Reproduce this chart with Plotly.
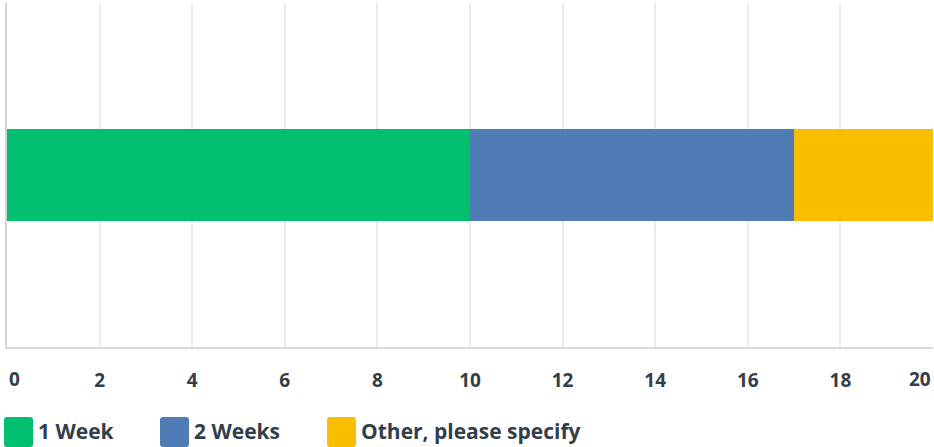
import plotly.graph_objects as go

categories = ["Q"]
series_names = ["1 Week", "2 Weeks", "Other, please specify"]
series_values = [[10], [7], [3]]
series_colors = ["#00BF6F", "#507CB6", "#F9BE00"]
tick_vals = [0, 2, 4, 6, 8, 10, 12, 14, 16, 18, 20]
tick_labels = ["0", "2", "4", "6", "8", "10", "12", "14", "16", "18", "20"]

W, H = 934, 447
L, R, T, B = 7, 1, 3, 100
pw = W - L - R
ph = H - T - B
TXT = "#333E48"
FAM = "Open Sans"
FONT = dict(family=FAM, size=19, color=TXT, weight=700)

fig = go.Figure()
for name, vals, col in zip(series_names, series_values, series_colors):
    fig.add_trace(go.Bar(y=categories, x=vals, name=name, orientation="h",
                         marker=dict(color=col, line=dict(width=0)),
                         width=0.27, showlegend=False))

# axis shows middle labels; end labels are clamped inside the plot like the reference
axis_text = [""] + tick_labels[1:-1] + [""]
annotations = [
    dict(x=tick_vals[0], y=0, xref="x", yref="paper", text=tick_labels[0],
         xanchor="left", yanchor="top", yshift=-17, showarrow=False, font=FONT),
    dict(x=tick_vals[-1], y=0, xref="x", yref="paper", text=tick_labels[-1],
         xanchor="right", yanchor="top", yshift=-17, showarrow=False, font=FONT),
]

def px_x(p):
    return (p - L) / pw

def px_y(p):
    return (H - B - p) / ph

def rounded_rect(x0, y0, x1, y1, r):
    def P(x, y):
        return f"{px_x(x):.5f},{px_y(y):.5f}"
    return (f"M{P(x0 + r, y0)} L{P(x1 - r, y0)} Q{P(x1, y0)} {P(x1, y0 + r)} "
            f"L{P(x1, y1 - r)} Q{P(x1, y1)} {P(x1 - r, y1)} "
            f"L{P(x0 + r, y1)} Q{P(x0, y1)} {P(x0, y1 - r)} "
            f"L{P(x0, y0 + r)} Q{P(x0, y0)} {P(x0 + r, y0)} Z")

legend_sq_x = [4, 160, 327]
shapes = []
for sx, name, col in zip(legend_sq_x, series_names, series_colors):
    shapes.append(dict(type="path", xref="paper", yref="paper",
                       path=rounded_rect(sx, 417, sx + 29, 447, 3),
                       fillcolor=col, line=dict(width=0), layer="above"))
    annotations.append(dict(x=px_x(sx + 32), y=px_y(431), xref="paper", yref="paper",
                            text=name, xanchor="left", yanchor="middle", showarrow=False,
                            font=dict(family=FAM, size=21, color=TXT, weight=700)))

fig.update_layout(
    width=W, height=H,
    margin=dict(l=L, r=R, t=T, b=B, autoexpand=False),
    paper_bgcolor="white", plot_bgcolor="white",
    barmode="stack", bargap=0,
    annotations=annotations, shapes=shapes,
    xaxis=dict(range=[0, 20], tickmode="array", tickvals=tick_vals, ticktext=axis_text,
               showgrid=True, gridcolor="#EBEBEB", gridwidth=2,
               showline=True, linecolor="#D9D9D9", linewidth=2,
               zeroline=False, ticks="", ticklabelstandoff=15,
               tickfont=FONT, fixedrange=True, automargin=False),
    yaxis=dict(range=[-0.5, 0.5], showticklabels=False, showgrid=False,
               showline=True, linecolor="#D5D5D5", linewidth=2,
               zeroline=False, ticks="", fixedrange=True, automargin=False),
)
fig.write_html("out.html", config={"displayModeBar": False},
               post_script="document.body.style.margin='0';document.body.style.overflow='hidden';")
